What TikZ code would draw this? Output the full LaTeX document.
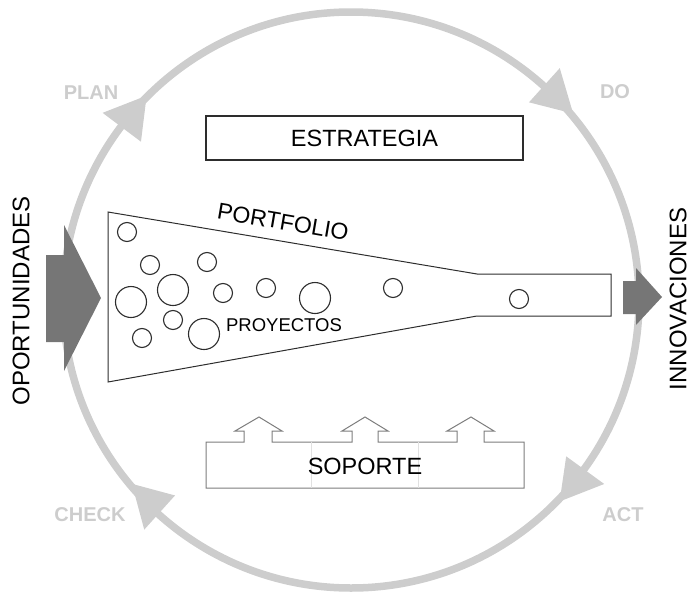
\documentclass[tikz,border=0pt]{standalone}
\usepackage{fontspec}
\setmainfont{Liberation Sans}
\definecolor{ringgray}{RGB}{205,205,205}
\definecolor{bigarrow}{RGB}{118,118,118}
\definecolor{linedark}{RGB}{45,45,45}
\definecolor{linesoft}{RGB}{125,125,125}
\begin{document}
\begin{tikzpicture}[x=1pt,y=-1pt,
  ring/.style={draw=ringgray,line width=7.5pt},
  headfill/.style={fill=ringgray,draw=none},
  phase/.style={inner sep=0pt,text=ringgray,font=\fontsize{20}{24}\selectfont\bfseries},
  bigtext/.style={inner sep=0pt,text depth=0pt,font=\fontsize{24}{28}\selectfont},
  boxtext/.style={inner sep=0pt,font=\fontsize{23.5}{28}\selectfont},
  proj/.style={circle,draw=linedark,line width=1.1pt,inner sep=0pt},
  bigarr/.style={fill=bigarrow,draw=none}]
\useasboundingbox (0,0) rectangle (689,595);
\coordinate (c) at (351,300);
% cycle ring
\draw[ring] (c) circle[radius=288pt];
\begin{scope}[shift={(c)}]
  % PLAN head
  \fill[headfill] (-135:289) -- (-143:311) -- (-143:263) -- cycle;
  % DO head
  \fill[headfill] (-40:290) -- (-48:312) -- (-48:266) -- cycle;
  % ACT head
  \fill[headfill] (44:290) -- (36:313) -- (36:266) -- cycle;
  % CHECK head
  \fill[headfill] (140:286) -- (132:309) -- (132:263) -- cycle;
\end{scope}
\node[phase] (plan) at (91,93) {PLAN};
\node[phase] (do) at (615,92) {DO};
\node[phase] (check) at (90,515) {CHECK};
\node[phase] (act) at (623,515) {ACT};
% estrategia
\node[draw=linedark,line width=1.1pt,minimum width=317pt,minimum height=44pt,inner sep=0pt,
  font=\fontsize{23.5}{28}\selectfont] (estrategia) at (364.5,138) {ESTRATEGIA};
% soporte
\draw[draw=linesoft,line width=1pt]
  (206,442) -- (244,442) -- (244,431) -- (235,431) -- (259,417) -- (282,431) -- (272,431) -- (272,442)
  -- (352,442) -- (352,431) -- (342,431) -- (365,417) -- (388,431) -- (378,431) -- (378,442)
  -- (457,442) -- (457,431) -- (447,431) -- (471,417) -- (494,431) -- (484,431) -- (484,442)
  -- (524,442) -- (524,488) -- (206,488) -- cycle;
\draw[draw=ringgray!60,line width=0.6pt] (311,442) -- (311,488) (418,442) -- (418,488);
\node[boxtext] (soporte) at (365,466) {SOPORTE};
% portfolio funnel
\draw[draw=linedark,line width=1pt]
  (108,212) -- (477,274) -- (611,274) -- (611,316) -- (477,316) -- (108,382) -- cycle;
\node[inner sep=0pt,rotate=-9.7,font=\fontsize{23}{27}\selectfont] (portfolio) at (283,222) {PORTFOLIO};
\node[inner sep=0pt,font=\fontsize{18.5}{22}\selectfont] (proyectos) at (284,325) {PROYECTOS};
% projects
\node[proj,minimum size=19pt] (p1) at (127,232) {};
\node[proj,minimum size=19pt] (p2) at (150,265) {};
\node[proj,minimum size=19pt] (p3) at (207,262) {};
\node[proj,minimum size=31pt] (p4) at (173,290) {};
\node[proj,minimum size=31pt] (p5) at (131,302) {};
\node[proj,minimum size=19pt] (p6) at (223,293) {};
\node[proj,minimum size=19pt] (p7) at (266,288) {};
\node[proj,minimum size=31pt] (p8) at (315,298) {};
\node[proj,minimum size=19pt] (p9) at (173,320) {};
\node[proj,minimum size=19pt] (p10) at (142,338) {};
\node[proj,minimum size=31pt] (p11) at (204,334) {};
\node[proj,minimum size=19pt] (p12) at (393,288) {};
\node[proj,minimum size=19pt] (p13) at (519,299) {};
% big arrows
\fill[bigarr] (46,255) -- (64,255) -- (64,225) -- (101,298) -- (64,371) -- (64,342) -- (46,342) -- cycle;
\fill[bigarr] (623,281) -- (636,281) -- (636,268) -- (662,297) -- (636,325) -- (636,314) -- (623,314) -- cycle;
\node[bigtext,rotate=90] (oport) at (21,301) {OPORTUNIDADES};
\node[bigtext,rotate=90] (innov) at (678,299) {INNOVACIONES};
\end{tikzpicture}
\end{document}
